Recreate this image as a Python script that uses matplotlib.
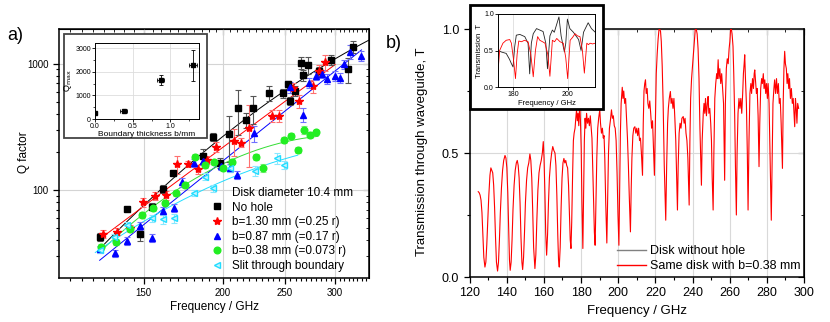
import numpy as np
import matplotlib
matplotlib.use('Agg')
import matplotlib.pyplot as plt
from matplotlib.lines import Line2D
from matplotlib.patches import Rectangle
from matplotlib.ticker import FixedLocator, NullFormatter, FixedFormatter

plt.rcParams['font.family'] = ['Liberation Sans', 'DejaVu Sans']

# ---------------- panel a) data ----------------
noh_f = [128, 141.2, 148, 154.5, 161, 167, 185.7, 192.5, 197.9, 204.5, 211, 217, 223, 236,
         248.5, 253, 254.6, 259, 265, 267, 272, 283, 295, 314, 320]
noh_q = [42.7, 70.7, 44.6, 73.8, 101.8, 136.4, 186, 264, 164, 276, 443, 358, 443, 583,
         583, 690, 509, 611, 1019, 814, 977, 880, 1070, 902, 1364]
noh_e = [3, 3, 5, 5, 8, 6, 25, 20, 15, 110, 170, 50, 110, 80,
         50, 40, 40, 60, 110, 80, 150, 60, 100, 200, 150]

b130_f = [129.5, 136.2, 142.6, 149.8, 156.2, 162.6, 169.2, 175.9, 182.6, 188.6, 195, 207.9,
          213.6, 219.6, 238.6, 244.6, 257.4, 263.6, 276.7, 283.2, 288.8]
b130_q = [44.9, 46.8, 49.8, 79.9, 90, 91, 160, 161, 146, 173, 220, 245,
          237, 311, 388, 388, 646, 509, 666, 880, 1025]
b130_e = [3, 3, 3, 6, 6, 8, 25, 10, 12, 12, 20, 60, 20, 160, 40, 40, 60, 60, 80, 100, 150]

b087_f = [128, 135.2, 141.4, 148, 154.5, 160.8, 167.3, 172.4, 179.8, 185.7, 198.4, 205.3, 210.5,
          223.5, 254.5, 267, 272.5, 279.5, 286, 291.7, 300, 305, 310, 317, 329]
b087_q = [33.9, 31.5, 39.5, 52.2, 41.5, 68.2, 72.4, 115, 164, 170, 155, 150, 131.5,
          281, 650, 393, 707, 804, 828, 757, 800, 775, 989, 1245, 1151]
b087_e = [2, 2, 3, 4, 3, 5, 5, 10, 12, 12, 12, 10, 10, 40, 60, 50, 60, 60, 60, 70, 70, 70, 80, 150, 100]

b038_f = [128.8, 135.6, 142.6, 149.2, 155.4, 161.9, 168.6, 174.2, 180.8, 187.3, 193.6, 200.3,
          206.4, 225, 231, 249.3, 256, 262, 267.7, 274, 280]
b038_q = [35.6, 38.6, 49.4, 63.4, 71.6, 78.5, 94, 109.5, 183.5, 158, 165.6, 148.5,
          167.5, 181.5, 150, 249, 269, 207, 298.7, 272.6, 286]
b038_e = [2, 2, 2, 3, 3, 3, 4, 5, 8, 8, 8, 8, 8, 10, 10, 15, 15, 12, 20, 15, 15]

slit_f = [128, 134.8, 141.2, 154.5, 160.8, 167.5, 180.2, 187.5, 193.1, 204.8, 224.4, 243.4, 249.6]
slit_q = [33.5, 42.2, 52.5, 59.7, 58.9, 59.7, 95.3, 127.4, 103, 148.5, 141.4, 178, 158]
slit_e = [2, 3, 3, 4, 5, 5, 5, 8, 6, 10, 12, 18, 12]

# inset a)
inset_b = [0.0, 0.38, 0.87, 1.30]
inset_qmax = [250, 330, 1650, 2280]
inset_berr = [0.0, 0.05, 0.05, 0.05]
inset_qerr = [0, 40, 210, 650]

# ---------------- panel b) data ----------------
tr_f = [124.7, 125.2, 125.7, 126.2, 126.7, 127.2, 127.7, 128.3, 128.8, 129.3, 129.8, 130.4, 131.0,
        131.5, 132.0, 132.5, 133.0, 133.5, 134.0, 134.5, 135.1, 135.6, 136.1, 136.6, 137.2, 137.8,
        138.4, 139.1, 139.6, 140.1, 140.6, 141.1, 141.5, 141.9, 142.4, 142.9, 143.4, 144.0, 144.6,
        145.2, 145.7, 146.2, 146.7, 147.2, 147.7, 148.2, 148.6, 149.1, 149.6, 150.1, 150.7, 151.3,
        151.9, 152.5, 153.0, 153.5, 154.0, 154.5, 155.2, 155.7, 156.2, 156.8, 157.4, 158.0, 158.6,
        159.2, 159.7, 160.1, 160.6, 161.0, 161.5, 162.0, 162.5, 163.0, 163.6, 164.2, 164.8, 165.4,
        166.0, 166.5, 167.0, 167.5, 167.9, 168.3, 168.8, 169.3, 169.8, 170.3, 170.8, 171.3, 171.8,
        172.3, 172.8, 173.3, 173.8, 174.2, 174.6, 175.0, 175.5, 175.9, 176.3, 176.8, 177.2, 177.6,
        178.0, 178.4, 178.8, 179.3, 179.7, 180.1, 180.5, 181.0, 181.4, 181.8, 182.2, 182.6, 183.0,
        183.5, 184.0, 184.5, 185.0, 185.5, 185.9, 186.3, 186.8, 187.2, 187.6, 188.0, 188.5, 189.0,
        189.5, 190.1, 190.5, 191.0, 191.5, 192.0, 192.4, 192.8, 193.3, 193.9, 194.3, 194.8, 195.3,
        195.8, 196.4, 196.9, 197.4, 197.9, 198.4, 198.9, 199.4, 199.9, 200.4, 200.8, 201.2, 201.6,
        202.0, 202.2, 202.6, 203.0, 203.5, 204.0, 204.5, 205.0, 205.5, 206.0, 206.6, 207.0, 207.4,
        207.9, 208.4, 209.0, 209.5, 210.0, 210.5, 211.0, 211.5, 212.0, 212.5, 213.1, 213.5, 213.9,
        214.3, 214.7, 215.1, 215.6, 216.0, 216.5, 217.0, 217.5, 218.0, 218.5, 219.0, 219.5, 220.0,
        220.5, 221.0, 221.5, 222.0, 222.4, 222.8, 223.2, 223.7, 224.2, 224.8, 225.6, 226.1, 226.6,
        227.0, 227.5, 228.1, 228.5, 229.0, 229.5, 230.0, 230.5, 231.0, 231.5, 231.9, 232.3, 232.8,
        233.3, 233.8, 234.3, 235.0, 235.5, 236.0, 236.5, 237.0, 237.5, 238.2, 238.6, 239.0, 239.5,
        240.0, 240.5, 241.0, 241.5, 242.0, 242.5, 243.0, 243.5, 244.0, 244.8, 245.2, 245.8, 246.2,
        246.6, 247.0, 247.5, 248.0, 248.4, 248.8, 249.3, 249.8, 250.2, 250.6, 251.1, 251.5, 252.0,
        252.5, 253.0, 253.4, 253.8, 254.2, 254.7, 255.2, 255.7, 256.2, 256.7, 257.3, 257.7, 258.2,
        258.7, 259.2, 259.7, 260.1, 260.5, 260.9, 261.3, 261.8, 262.2, 262.7, 263.1, 263.6, 264.0,
        264.5, 265.0, 265.5, 266.0, 266.5, 267.0, 267.4, 267.8, 268.1, 268.5, 269.0, 269.5, 269.9,
        270.4, 270.9, 271.4, 271.8, 272.3, 272.8, 273.2, 273.5, 274.0, 274.4, 274.8, 275.3, 275.8,
        276.2, 276.7, 277.2, 277.6, 278.1, 278.5, 278.9, 279.4, 279.8, 280.3, 280.7, 281.2, 281.6,
        282.0, 282.4, 282.8, 283.3, 283.8, 284.2, 284.7, 285.2, 285.7, 286.2, 286.7, 287.2, 287.7,
        288.4, 288.8, 289.2, 289.6, 290.0, 290.5, 290.9, 291.3, 291.8, 292.2, 292.7, 293.2, 293.7,
        294.2, 294.6, 295.0, 295.4, 295.8, 296.2, 296.6, 297.1]
tr_t = [0.344, 0.34, 0.33, 0.31, 0.26, 0.17, 0.08, 0.04, 0.06, 0.13, 0.22, 0.33, 0.41,
        0.44, 0.43, 0.42, 0.37, 0.28, 0.16, 0.06, 0.024, 0.06, 0.15, 0.26, 0.36, 0.43,
        0.47, 0.49, 0.48, 0.44, 0.34, 0.18, 0.07, 0.027, 0.06, 0.15, 0.27, 0.37, 0.43,
        0.46, 0.47, 0.45, 0.40, 0.30, 0.16, 0.06, 0.03, 0.08, 0.18, 0.30, 0.39, 0.44,
        0.46, 0.496, 0.47, 0.40, 0.27, 0.12, 0.034, 0.09, 0.22, 0.35, 0.42, 0.45, 0.47,
        0.50, 0.546, 0.48, 0.33, 0.18, 0.088, 0.17, 0.30, 0.40, 0.46, 0.50, 0.526, 0.51,
        0.50, 0.45, 0.33, 0.17, 0.07, 0.04, 0.12, 0.28, 0.40, 0.46, 0.478, 0.46, 0.47,
        0.45, 0.44, 0.37, 0.25, 0.15, 0.115, 0.22, 0.42, 0.55, 0.58, 0.60, 0.64, 0.674,
        0.63, 0.66, 0.61, 0.70, 0.63, 0.52, 0.30, 0.115, 0.35, 0.55, 0.64, 0.60, 0.66,
        0.62, 0.64, 0.61, 0.65, 0.60, 0.56, 0.45, 0.30, 0.18, 0.128, 0.28, 0.48, 0.60,
        0.64, 0.674, 0.62, 0.58, 0.60, 0.56, 0.57, 0.48, 0.30, 0.137, 0.30, 0.50, 0.60,
        0.63, 0.674, 0.64, 0.65, 0.61, 0.60, 0.55, 0.42, 0.25, 0.128, 0.35, 0.58, 0.70,
        0.74, 0.765, 0.72, 0.75, 0.70, 0.72, 0.64, 0.56, 0.45, 0.32, 0.182, 0.35, 0.48,
        0.57, 0.60, 0.606, 0.58, 0.60, 0.57, 0.60, 0.55, 0.56, 0.50, 0.41, 0.62, 0.75,
        0.78, 0.795, 0.74, 0.76, 0.70, 0.68, 0.71, 0.66, 0.60, 0.63, 0.52, 0.41, 0.62,
        0.82, 0.90, 0.96, 1.0, 1.0, 0.99, 0.95, 0.85, 0.70, 0.45, 0.229, 0.45, 0.62,
        0.68, 0.72, 0.748, 0.70, 0.72, 0.68, 0.72, 0.64, 0.55, 0.40, 0.27, 0.45, 0.58,
        0.62, 0.60, 0.64, 0.647, 0.62, 0.64, 0.58, 0.55, 0.48, 0.29, 0.55, 0.72, 0.80,
        0.85, 0.90, 0.95, 1.0, 1.0, 0.98, 0.92, 0.80, 0.60, 0.37, 0.55, 0.66, 0.70,
        0.66, 0.72, 0.65, 0.70, 0.728, 0.66, 0.68, 0.62, 0.55, 0.40, 0.27, 0.50, 0.72,
        0.78, 0.82, 0.80, 0.876, 0.80, 0.84, 0.78, 0.82, 0.76, 0.70, 0.39, 0.70, 0.84,
        0.88, 0.86, 0.92, 0.95, 1.0, 1.0, 0.98, 0.93, 0.82, 0.65, 0.45, 0.25, 0.50,
        0.66, 0.72, 0.68, 0.72, 0.66, 0.74, 0.82, 0.86, 0.896, 0.80, 0.70, 0.50, 0.27,
        0.55, 0.74, 0.78, 0.74, 0.80, 0.76, 0.82, 0.835, 0.78, 0.74, 0.76, 0.65, 0.445,
        0.62, 0.76, 0.80, 0.78, 0.82, 0.76, 0.795, 0.74, 0.78, 0.72, 0.78, 0.70, 0.55,
        0.38, 0.229, 0.45, 0.70, 0.76, 0.795, 0.74, 0.80, 0.74, 0.78, 0.70, 0.72, 0.62,
        0.438, 0.70, 0.84, 0.91, 0.86, 0.84, 0.78, 0.82, 0.76, 0.80, 0.72, 0.76, 0.70,
        0.72, 0.66, 0.606, 0.72, 0.68, 0.62, 0.70, 0.68]

# inset b)
in_red_f = [174.5, 175.1, 176.3, 177.5, 178.8, 179.4, 180.1, 180.9, 181.5, 182.1, 183.1, 184.2,
            185.5, 186.5, 187.4, 188.2, 189.0, 189.8, 190.8, 191.7, 192.7, 193.5, 194.4, 195.2,
            196.0, 197.2, 198.4, 199.3, 200.0, 200.9, 201.8, 202.7, 203.6, 204.5, 205.4, 206.1,
            207.0, 207.6, 208.2, 209.1, 210.1]
in_red_t = [0.21, 0.5, 0.6, 0.64, 0.65, 0.6, 0.4, 0.115, 0.45, 0.63, 0.62, 0.64,
            0.62, 0.45, 0.14, 0.5, 0.69, 0.64, 0.62, 0.6, 0.45, 0.147, 0.64, 0.62,
            0.665, 0.62, 0.6, 0.4, 0.115, 0.64, 0.68, 0.73, 0.70, 0.69, 0.5, 0.19,
            0.6, 0.58, 0.6, 0.59, 0.6]
in_blk_f = [174.5, 175.7, 177.5, 178.7, 179.4, 180.0, 180.6, 181.2, 182.5, 184.3, 185.5, 186.1,
            186.7, 187.4, 188.6, 189.8, 191.0, 192.0, 192.6, 193.5, 194.4, 195.1, 196.8, 197.6,
            198.4, 198.8, 199.3, 199.9, 200.8, 202.1, 204.0, 204.9, 205.8, 207.5, 208.7, 210.1]
in_blk_t = [0.5, 0.48, 0.46, 0.38, 0.32, 0.275, 0.55, 0.71, 0.72, 0.69, 0.6, 0.18,
            0.6, 0.73, 0.8, 0.78, 0.76, 0.6, 0.25, 0.7, 0.78, 0.75, 0.96, 0.7,
            0.55, 0.48, 0.6, 0.93, 0.8, 0.75, 0.65, 0.5, 0.75, 0.88, 0.8, 0.75]

# ---------------- figure ----------------
W, H = 830, 322
fig = plt.figure(figsize=(W / 100, H / 100), dpi=100)


def fbox(x0, y0, x1, y1):
    return [x0 / W, (H - y1) / H, (x1 - x0) / W, (y1 - y0) / H]


# ======== panel a ========
ax = fig.add_axes(fbox(59, 29, 369, 278))
ax.set_xscale('log')
ax.set_yscale('log')
ax.set_xlim(110.5, 339)
ax.set_ylim(20.1, 1880)
ax.set_axisbelow(True)

series = [
    (noh_f, noh_q, noh_e, 's', 'black', '#555555', 'black', 4.2, (127, 340), 'No hole'),
    (b130_f, b130_q, b130_e, '*', 'red', '#ff7070', 'red', 6.0, (128, 300), 'b=1.30 mm (=0.25 r)'),
    (b087_f, b087_q, b087_e, '^', 'blue', '#7070ff', 'blue', 4.8, (128, 330), 'b=0.87 mm (=0.17 r)'),
    (b038_f, b038_q, b038_e, 'o', '#22ee22', '#88ee88', '#33dd33', 4.8, (128, 282), 'b=0.38 mm (=0.073 r)'),
    (slit_f, slit_q, slit_e, '<', '#22ddff', '#88e8ff', '#22ddff', 4.8, (126, 262), 'Slit through boundary'),
]
handles = [Line2D([], [], linestyle='none', marker='')]
labels = ['Disk diameter 10.4 mm']
for f, q, e, mk, col, ecol, lcol, ms, rng, lab in series:
    f = np.asarray(f, float)
    q = np.asarray(q, float)
    coef = np.polyfit(np.log(f), np.log(q), 2)
    ff = np.geomspace(rng[0], rng[1], 200)
    ax.plot(ff, np.exp(np.polyval(coef, np.log(ff))), color=lcol, lw=0.7, zorder=2)
    mfc = '#c8f4ff' if mk == '<' else col
    ax.errorbar(f, q, yerr=e, fmt=mk, color=col, mfc=mfc, mec=col, ms=ms, ecolor=ecol,
                elinewidth=0.8, capsize=2, capthick=0.8, zorder=3)
    handles.append(Line2D([], [], linestyle='none', marker=mk, color=col, mfc=mfc, mec=col, ms=ms))
    labels.append(lab)

ax.xaxis.set_major_locator(FixedLocator([150, 200, 250, 300]))
ax.xaxis.set_major_formatter(FixedFormatter(['150', '200', '250', '300']))
ax.xaxis.set_minor_locator(FixedLocator(list(range(115, 340, 5))))
ax.xaxis.set_minor_formatter(NullFormatter())
ax.yaxis.set_major_locator(FixedLocator([100, 1000]))
ax.yaxis.set_major_formatter(FixedFormatter(['100', '1000']))
yminor = [v * d for d in (10, 100, 1000) for v in range(2, 10) if 20 <= v * d <= 1880]
ax.yaxis.set_minor_locator(FixedLocator(yminor))
ax.yaxis.set_minor_formatter(NullFormatter())
ax.tick_params(which='major', direction='out', length=4, width=0.9, labelsize=7)
ax.tick_params(which='minor', direction='out', length=2.5, width=0.8)
ax.grid(True, which='major', color='#d4d4d4', lw=0.8)
for s in ax.spines.values():
    s.set_linewidth(1.1)

sx = ax.secondary_xaxis('top')
sx.xaxis.set_major_locator(FixedLocator([150, 200, 250, 300]))
sx.xaxis.set_minor_locator(FixedLocator(list(range(115, 340, 5))))
sx.tick_params(which='both', direction='in', labeltop=False)
sx.tick_params(which='major', length=4)
sx.tick_params(which='minor', length=2.5)
sy = ax.secondary_yaxis('right')
sy.yaxis.set_major_locator(FixedLocator([100, 1000]))
sy.yaxis.set_minor_locator(FixedLocator(yminor))
sy.tick_params(which='both', direction='in', labelright=False)
sy.tick_params(which='major', length=4)
sy.tick_params(which='minor', length=2.5)

ax.set_xlabel('Frequency / GHz', fontsize=8.5)
ax.xaxis.set_label_coords((214.5 - 59) / 310, (278 - 301) / 249)
ax.set_ylabel('Q factor', fontsize=8.5, va='center')
ax.yaxis.set_label_coords((23.5 - 59) / 310, (278 - 152) / 249)

leg = ax.legend(handles, labels, loc='upper left', bbox_to_anchor=((211 - 59) / 310, (278 - 187) / 249),
                frameon=False, fontsize=8.5, handlelength=1.0, handletextpad=0.8,
                labelspacing=0.22, borderpad=0, borderaxespad=0)

fig.text(15 / W, 1 - 35 / H, 'a)', fontsize=13, ha='center', va='center')

# inset a
fig.add_artist(Rectangle((64 / W, (H - 138) / H), 143 / W, 104 / H, transform=fig.transFigure,
                         facecolor='white', edgecolor='#444444', lw=1.3, zorder=5))
axi = fig.add_axes(fbox(95, 43, 199, 119))
axi.set_zorder(6)
axi.errorbar(inset_b, inset_qmax, xerr=inset_berr, yerr=inset_qerr, fmt='s', color='black', ms=2.6,
             elinewidth=0.6, capsize=1.3, capthick=0.6)
axi.set_xlim(0, 1.38)
axi.set_ylim(0, 3230)
axi.set_xticks([0, 0.5, 1.0])
axi.set_xticklabels(['0.0', '0.5', '1.0'])
axi.set_yticks([0, 1000, 2000, 3000])
axi.xaxis.set_minor_locator(FixedLocator([0.25, 0.75, 1.25]))
axi.yaxis.set_minor_locator(FixedLocator([500, 1500, 2500]))
axi.tick_params(which='major', labelsize=5, length=2, width=0.6, pad=1)
axi.tick_params(which='minor', length=1.2, width=0.5)
axi.grid(True, which='major', color='#dddddd', lw=0.6)
axi.set_axisbelow(True)
for s in axi.spines.values():
    s.set_linewidth(0.7)
axi.set_xlabel('Boundary thickness b/mm', fontsize=6, labelpad=0.5)
axi.set_ylabel('Q$_{\\rm max}$', fontsize=6.5, labelpad=1)

# ======== panel b ========
axr = fig.add_axes(fbox(469.5, 29, 804, 277))
axr.plot(tr_f, tr_t, color='red', lw=0.8, zorder=3)
axr.set_xlim(120, 300)
axr.set_ylim(0, 1.0)
axr.set_axisbelow(True)
axr.set_xticks(list(range(120, 301, 20)))
axr.xaxis.set_minor_locator(FixedLocator(list(range(130, 300, 20))))
axr.set_yticks([0, 0.5, 1.0])
axr.set_yticklabels(['0.0', '0.5', '1.0'])
axr.yaxis.set_minor_locator(FixedLocator([0.25, 0.75]))
axr.tick_params(which='major', direction='out', length=4, width=0.9, labelsize=9)
axr.tick_params(which='minor', direction='out', length=2.5, width=0.8)
axr.grid(True, which='major', color='#d9d9d9', lw=0.8)
for s in axr.spines.values():
    s.set_linewidth(1.1)
sxr = axr.secondary_xaxis('top')
sxr.set_xticks(list(range(120, 301, 20)))
sxr.xaxis.set_minor_locator(FixedLocator(list(range(130, 300, 20))))
sxr.tick_params(which='both', direction='in', labeltop=False)
sxr.tick_params(which='major', length=4)
sxr.tick_params(which='minor', length=2.5)
syr = axr.secondary_yaxis('right')
syr.set_yticks([0, 0.5, 1.0])
syr.yaxis.set_minor_locator(FixedLocator([0.25, 0.75]))
syr.tick_params(which='both', direction='in', labelright=False)
syr.tick_params(which='major', length=4)
syr.tick_params(which='minor', length=2.5)

axr.set_xlabel('Frequency / GHz', fontsize=9.5)
axr.xaxis.set_label_coords((637 - 469.5) / 334.5, (277 - 305) / 248)
axr.set_ylabel('Transmission through waveguide, T', fontsize=9.5, va='center')
axr.yaxis.set_label_coords((422 - 469.5) / 334.5, (277 - 152) / 248)

rh = [Line2D([], [], color='#808080', lw=1.0), Line2D([], [], color='red', lw=1.0)]
axr.legend(rh, ['Disk without hole', 'Same disk with b=0.38 mm'], loc='upper left',
           bbox_to_anchor=((617 - 469.5) / 334.5, (277 - 245) / 248), frameon=False, fontsize=9,
           handlelength=2.3, handletextpad=0.3, labelspacing=0.25, borderpad=0, borderaxespad=0)

fig.text(394 / W, 1 - 44 / H, 'b)', fontsize=13, ha='center', va='center')

# inset b
fig.add_artist(Rectangle((470 / W, (H - 109) / H), 133 / W, 104 / H, transform=fig.transFigure,
                         facecolor='white', edgecolor='black', lw=2.0, zorder=5))
axj = fig.add_axes(fbox(498, 14, 595, 87))
axj.set_zorder(6)
axj.plot(in_blk_f, in_blk_t, color='#222222', lw=0.6)
axj.plot(in_red_f, in_red_t, color='red', lw=0.6)
axj.set_xlim(174.5, 210)
axj.set_ylim(0, 1.0)
axj.set_xticks([180, 200])
axj.xaxis.set_minor_locator(FixedLocator([190]))
axj.set_yticks([0, 0.5, 1.0])
axj.set_yticklabels(['0.0', '0.5', '1.0'])
axj.tick_params(which='major', labelsize=5, length=2, width=0.6, pad=1)
axj.tick_params(which='minor', length=1.2, width=0.5)
axj.grid(True, which='major', color='#dddddd', lw=0.6)
axj.set_axisbelow(True)
for s in axj.spines.values():
    s.set_linewidth(0.7)
axj.set_xlabel('Frequency / GHz', fontsize=5.5, labelpad=1)
axj.set_ylabel('Transmission  T', fontsize=5.5, labelpad=1)

fig.savefig('out.png', dpi=100)
